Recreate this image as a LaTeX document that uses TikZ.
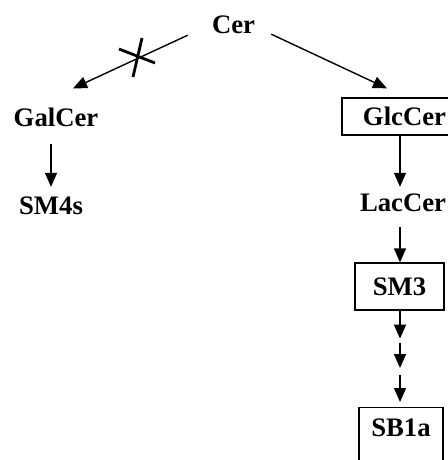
\documentclass[tikz,border=0pt]{standalone}
\usepackage{fontspec}
\setmainfont{Liberation Serif}
\usetikzlibrary{arrows.meta,calc}
\begin{document}
\begin{tikzpicture}[x=1pt,y=-1pt,
  lbl/.style={font=\fontsize{26.7}{30}\selectfont\bfseries, inner sep=0pt},
  boxed/.style={lbl, draw, line width=1.3pt, inner xsep=0pt, inner ysep=0pt},
  arr/.style={line width=1.4pt, -{Triangle[length=14pt,width=12pt]}},
  crossmark/.style={line width=2.8pt}]
\useasboundingbox (0,0) rectangle (447,460);
% labels and boxes
\node[lbl] (cer) at (233.5,25) {Cer};
\node[lbl] (galcer) at (56,117) {GalCer};
\node[lbl] (sm4s) at (51,206) {SM4s};
\node[boxed, minimum width=125pt, minimum height=37pt] (glccer) at (404.5,116.5) {GlcCer};
\node[lbl] (laccer) at (403,203) {LacCer};
\node[boxed, minimum width=89pt, minimum height=47pt] (sm3) at (399.5,286.5) {SM3};
\node[boxed, minimum width=84pt, anchor=north, inner ysep=11pt,
      text height=18pt, text depth=20pt] (sb1a) at (401,407) {SB1a};
% branch from ceramide (canvas shifts: positive yshift is upwards)
\draw[arr] ([xshift=-24pt,yshift=-1pt]cer.south west) -- ([xshift=17pt,yshift=19pt]galcer.north);
\draw[arr] ([xshift=16pt]cer.south east) -- ([xshift=-17.5pt,yshift=9pt]glccer.north);
% blocked step
\draw[crossmark] (119,49) -- (155,63);
\draw[crossmark] (142,38) -- (133,77);
% galacto series
\draw[arr] ([xshift=-5pt,yshift=-17pt]galcer.south) -- ([yshift=10pt]sm4s.north);
% gluco series
\draw[arr] (glccer.south -| 400,0) -- ([yshift=7pt]laccer.north -| 400,0);
\draw[arr] ([yshift=-15pt]laccer.south -| 400,0) -- (sm3.north -| 400,0);
\coordinate (d1) at ($(sm3.south)+(0,28)$);
\coordinate (d2) at ($(sm3.south)+(0,32)$);
\coordinate (d3) at ($(sb1a.north)+(0,-39)$);
\coordinate (d4) at ($(sb1a.north)+(0,-32)$);
\draw[arr] (sm3.south -| 400,0) -- (d1 -| 400,0);
\draw[arr] (d2 -| 400,0) -- (d3 -| 400,0);
\draw[arr] (d4 -| 400,0) -- ([yshift=5pt]sb1a.north -| 400,0);
\end{tikzpicture}
\end{document}
